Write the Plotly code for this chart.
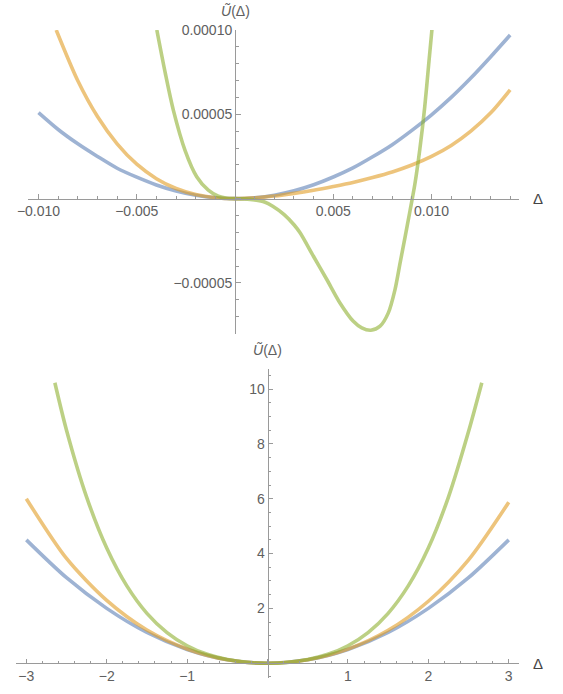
import plotly.graph_objects as go

# ---------------------------------------------------------
#  data
# ---------------------------------------------------------

# top panel (small Delta)
top_blue_x = [-0.010, -0.009, -0.008, -0.007, -0.006, -0.005, -0.004, -0.003, -0.002, -0.001, 0.0,
              0.001, 0.002, 0.003, 0.004, 0.005, 0.006, 0.007, 0.008, 0.009, 0.010, 0.011, 0.012,
              0.013, 0.014]
top_blue_y = [5.1e-5, 4.1e-5, 3.25e-5, 2.5e-5, 1.8e-5, 1.27e-5, 8.1e-6, 4.5e-6, 2.0e-6, 5e-7, 0.0,
              5e-7, 2.0e-6, 4.6e-6, 8.2e-6, 1.28e-5, 1.82e-5, 2.48e-5, 3.2e-5, 4.05e-5, 4.97e-5,
              6.0e-5, 7.15e-5, 8.4e-5, 9.7e-5]

top_orange_x = [-0.0091, -0.008, -0.007, -0.006, -0.005, -0.004, -0.003, -0.002, -0.001, 0.0,
                0.001, 0.002, 0.003, 0.004, 0.005, 0.006, 0.007, 0.008, 0.009, 0.010, 0.011,
                0.012, 0.013, 0.014]
top_orange_y = [1.0e-4, 6.99e-5, 4.87e-5, 3.25e-5, 2.04e-5, 1.18e-5, 5.96e-6, 2.37e-6, 5.3e-7, 0.0,
                4.3e-7, 1.53e-6, 3.1e-6, 5.0e-6, 7.2e-6, 9.6e-6, 1.25e-5, 1.58e-5, 1.99e-5,
                2.5e-5, 3.15e-5, 4.0e-5, 5.07e-5, 6.45e-5]

top_green_x = [-0.00398, -0.00356, -0.00314, -0.00254, -0.00195, -0.00136, -0.00085, -0.0004, 0.0,
               0.0005, 0.001, 0.0015, 0.00192, 0.0025, 0.003, 0.00331, 0.00399, 0.00467, 0.00534,
               0.00602, 0.00645, 0.00691, 0.00738, 0.0078, 0.00814, 0.0084, 0.00865, 0.0089,
               0.00915, 0.0094, 0.00965, 0.00985, 0.01005]
top_green_y = [1.0e-4, 7.5e-5, 5.25e-5, 2.85e-5, 1.3e-5, 5.0e-6, 1.4e-6, 2e-7, 0.0,
               -2e-7, -8e-7, -2.0e-6, -4.5e-6, -9.5e-6, -1.55e-5, -2.03e-5, -3.42e-5, -4.8e-5,
               -6.19e-5, -7.28e-5, -7.67e-5, -7.81e-5, -7.57e-5, -6.78e-5, -5.4e-5, -3.81e-5,
               -2.3e-5, -7.5e-6, 8.5e-6, 2.9e-5, 5.4e-5, 7.9e-5, 1.04e-4]

# bottom panel (large Delta)
bot_blue_x = [-3.0, -2.5, -2.0, -1.5, -1.0, -0.5, 0.0, 0.5, 1.0, 1.5, 2.0, 2.5, 3.0]
bot_blue_y = [4.5, 3.12, 2.0, 1.12, 0.5, 0.125, 0.0, 0.125, 0.5, 1.12, 2.0, 3.12, 4.5]

bot_orange_x = [-3.0, -2.5, -2.0, -1.5, -1.0, -0.5, 0.0, 0.5, 1.0, 1.5, 2.0, 2.5, 3.0]
bot_orange_y = [6.0, 3.82, 2.29, 1.21, 0.52, 0.126, 0.0, 0.125, 0.515, 1.2, 2.26, 3.77, 5.87]

bot_green_x = [-2.645, -2.5, -2.25, -2.0, -1.75, -1.5, -1.25, -1.0, -0.75, -0.5, -0.25, 0.0,
               0.25, 0.5, 0.75, 1.0, 1.25, 1.5, 1.75, 2.0, 2.25, 2.5, 2.665]
bot_green_y = [10.23, 8.5, 6.06, 4.2, 2.82, 1.82, 1.117, 0.638, 0.325, 0.134, 0.032, 0.0,
               0.032, 0.134, 0.325, 0.638, 1.117, 1.82, 2.82, 4.2, 6.06, 8.45, 10.23]

# tick values / labels
top_xticks = [-0.010, -0.005, 0.0, 0.005, 0.010]
top_xlabels = ["\u22120.010", "\u22120.005", "", "0.005", "0.010"]
top_yticks = [-0.00005, 0.0, 0.00005, 0.00010]
top_ylabels = ["\u22120.00005", "", "0.00005", "0.00010"]

bot_xticks = [-3, -2, -1, 0, 1, 2, 3]
bot_xlabels = ["\u22123", "\u22122", "\u22121", "", "1", "2", "3"]
bot_yticks = [0, 2, 4, 6, 8, 10]
bot_ylabels = ["", "2", "4", "6", "8", "10"]

# ---------------------------------------------------------
#  style
# ---------------------------------------------------------

W, H = 563, 694
BLUE = "rgba(94,129,181,0.6)"
ORANGE = "rgba(225,156,36,0.6)"
GREEN = "rgba(143,176,50,0.6)"
AXIS = "#9a9a9a"
TXT = "#606060"
FONT = "Liberation Sans"
LW = 3.6

# panel boxes in px (left, right, top, bottom) and ranges
top_box = (28.3, 519.0, 30.0, 334.3)
top_xr = [-0.01052, 0.01445]
top_yr = [-8.05e-5, 1.0e-4]
bot_box = (16.1, 519.2, 369.3, 678.3)
bot_xr = [-3.127, 3.13]
bot_yr = [-0.55, 10.72]


def domains(box):
    l, r, t, b = box
    return [l / W, r / W], [1 - b / H, 1 - t / H]


def zero_pos(dom, rng):
    return dom[0] + (0 - rng[0]) / (rng[1] - rng[0]) * (dom[1] - dom[0])


def axis_common():
    return dict(
        showgrid=False, zeroline=False, showline=True, linecolor=AXIS, linewidth=1,
        ticks="inside", ticklen=4.5, tickcolor=AXIS, tickwidth=1,
        tickfont=dict(family=FONT, size=14, color=TXT),
        tickmode="array", automargin=False,
    )


fig = go.Figure()

for xs, ys, col in [(top_blue_x, top_blue_y, BLUE), (top_orange_x, top_orange_y, ORANGE),
                    (top_green_x, top_green_y, GREEN)]:
    fig.add_trace(go.Scatter(x=xs, y=ys, mode="lines", xaxis="x", yaxis="y",
                             line=dict(color=col, width=LW, shape="spline", smoothing=0.8)))

for xs, ys, col in [(bot_blue_x, bot_blue_y, BLUE), (bot_orange_x, bot_orange_y, ORANGE),
                    (bot_green_x, bot_green_y, GREEN)]:
    fig.add_trace(go.Scatter(x=xs, y=ys, mode="lines", xaxis="x2", yaxis="y2",
                             line=dict(color=col, width=LW, shape="spline", smoothing=0.8)))

tx_dom, ty_dom = domains(top_box)
bx_dom, by_dom = domains(bot_box)

fig.update_layout(
    width=W, height=H,
    margin=dict(l=0, r=0, t=0, b=0, pad=0),
    paper_bgcolor="white", plot_bgcolor="white",
    showlegend=False, hovermode=False,
    xaxis=dict(axis_common(), domain=tx_dom, range=top_xr, anchor="free",
               position=zero_pos(ty_dom, top_yr), tickvals=top_xticks, ticktext=top_xlabels,
               minor=dict(ticks="inside", ticklen=2.5, tickcolor=AXIS, tick0=0, dtick=0.001)),
    yaxis=dict(axis_common(), domain=ty_dom, range=top_yr, anchor="free",
               position=zero_pos(tx_dom, top_xr), tickvals=top_yticks, ticktext=top_ylabels,
               minor=dict(ticks="inside", ticklen=2.5, tickcolor=AXIS, tick0=0, dtick=0.00001)),
    xaxis2=dict(axis_common(), domain=bx_dom, range=bot_xr, anchor="free",
                position=zero_pos(by_dom, bot_yr), tickvals=bot_xticks, ticktext=bot_xlabels,
                minor=dict(ticks="inside", ticklen=2.5, tickcolor=AXIS, tick0=0, dtick=0.2)),
    yaxis2=dict(axis_common(), domain=by_dom, range=bot_yr, anchor="free",
                position=zero_pos(bx_dom, bot_xr), tickvals=bot_yticks, ticktext=bot_ylabels,
                minor=dict(ticks="inside", ticklen=2.5, tickcolor=AXIS, tick0=0, dtick=0.5)),
)

# axis labels
for xr, yr, xa, ya in [(top_xr, top_yr, "x", "y"), (bot_xr, bot_yr, "x2", "y2")]:
    fig.add_annotation(x=xr[1], y=0, xref=xa, yref=ya, text="\u0394", showarrow=False,
                       xanchor="left", yanchor="middle", xshift=12,
                       font=dict(family=FONT, size=15, color="#444"))
    fig.add_annotation(x=0, y=yr[1], xref=xa, yref=ya, text="<i>\u0168</i>(\u0394)",
                       showarrow=False, xanchor="center", yanchor="bottom", yshift=9,
                       font=dict(family=FONT, size=14, color=TXT))

# page without the default body margin so the figure sits at (0, 0)
fig.write_html("out.html", config={"displayModeBar": False},
               post_script="document.body.style.margin='0';")
